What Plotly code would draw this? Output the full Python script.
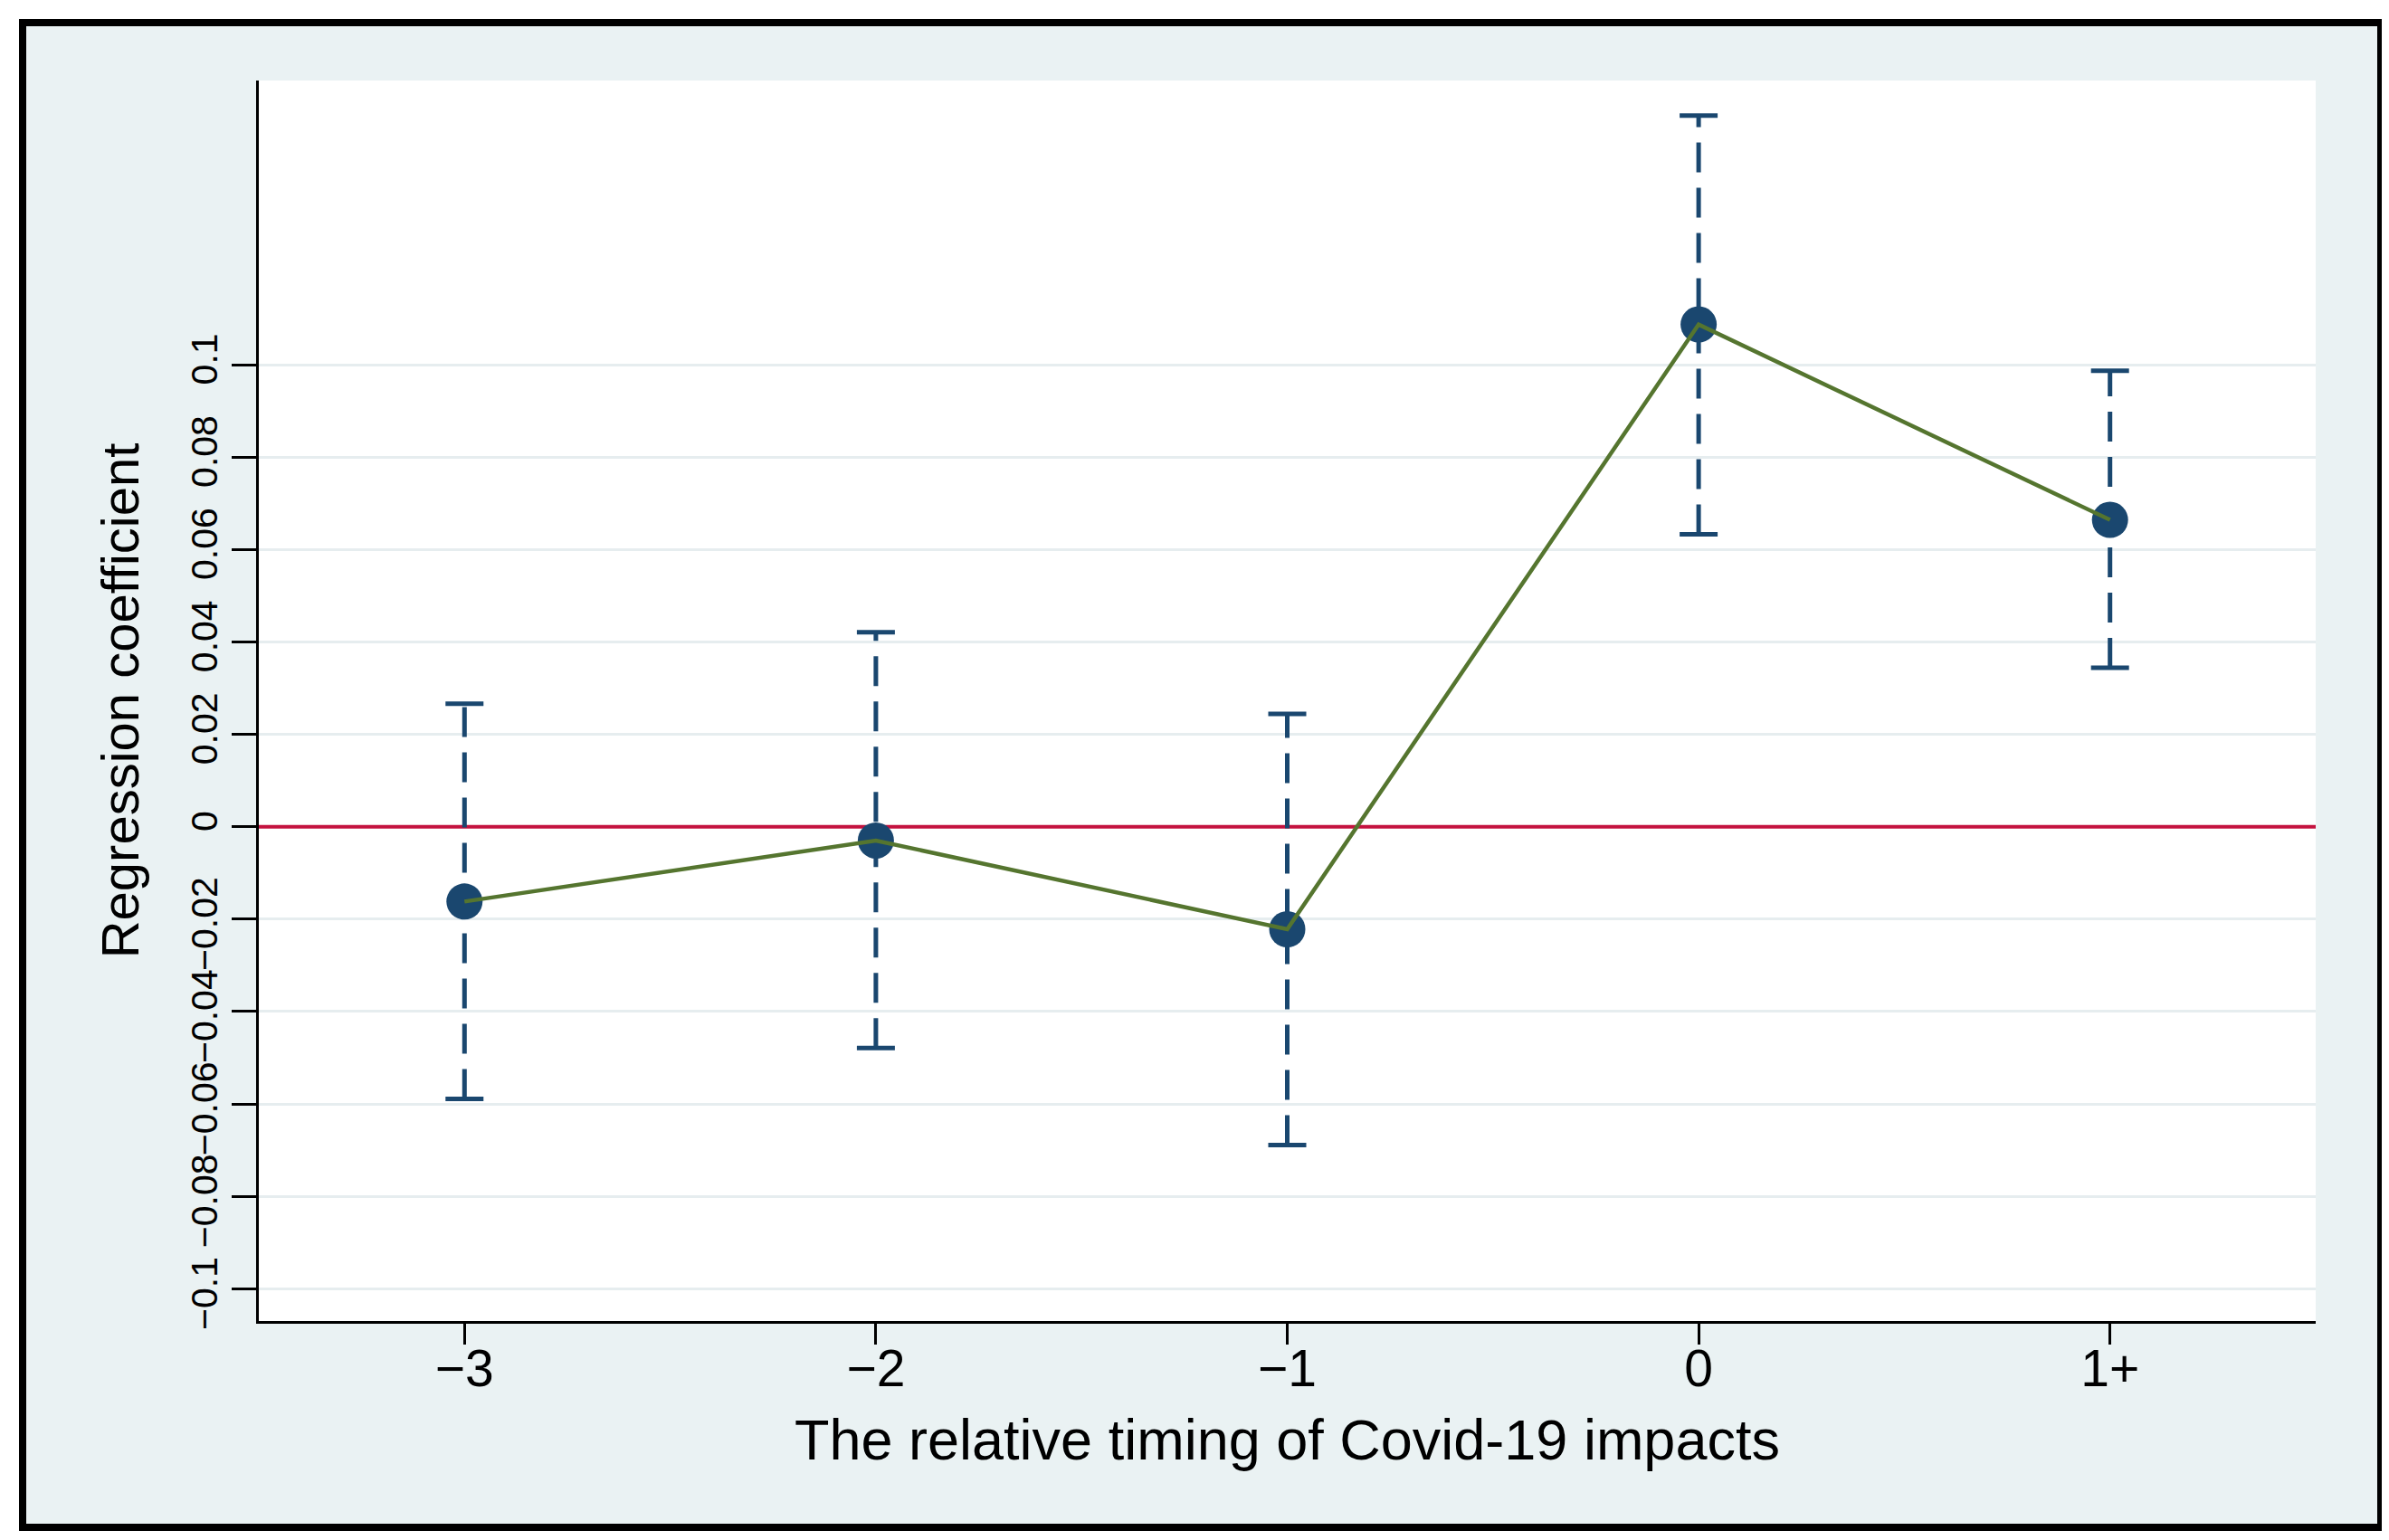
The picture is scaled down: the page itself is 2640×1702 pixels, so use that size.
import plotly.graph_objects as go

# ---- data ----
period_labels = ["\u22123", "\u22122", "\u22121", "0", "1+"]
period_pos = [-3, -2, -1, 0, 1]
coef = [-0.0162, -0.0030, -0.0222, 0.1087, 0.0664]
ci_low = [-0.0589, -0.0479, -0.0689, 0.0633, 0.0344]
ci_high = [0.0266, 0.0421, 0.0244, 0.1539, 0.0987]
y_tick_vals = [-0.1, -0.08, -0.06, -0.04, -0.02, 0, 0.02, 0.04, 0.06, 0.08, 0.1]
y_tick_text = ["\u22120.1", "\u22120.08", "\u22120.06", "\u22120.04", "\u22120.02", "0",
               "0.02", "0.04", "0.06", "0.08", "0.1"]
x_range = [-3.5, 1.5]
y_range = [-0.107, 0.1615]
ref_value = 0
x_title = "The relative timing of Covid-19 impacts"
y_title = "Regression coefficient"

NAVY = "#1A476F"
GREEN = "#55752F"
RED = "#C4123F"
BG = "#EAF2F3"
FONT = "Liberation Sans, Arial, sans-serif"

W, H = 2640, 1702
ML, MR, MT, MB = 278, 89, 81, 250
PW, PH = W - ML - MR, H - MT - MB

# negative labels: numeric part centred on the tick, minus sign protruding (as in the reference)
y_tick_disp = [t + "\u00a0\u00a0" if t.startswith("\u2212") else t for t in y_tick_text]

fig = go.Figure()

# zero reference line across the whole x range
fig.add_trace(go.Scatter(x=x_range, y=[ref_value, ref_value], mode="lines",
                         line=dict(color=RED, width=4), hoverinfo="skip", showlegend=False))

# dashed confidence-interval lines
for xp, lo, hi in zip(period_pos, ci_low, ci_high):
    fig.add_trace(go.Scatter(x=[xp, xp], y=[lo, hi], mode="lines",
                             line=dict(color=NAVY, width=5, dash="33px,17px"),
                             hoverinfo="skip", showlegend=False))
# caps
fig.add_trace(go.Scatter(x=period_pos + period_pos, y=ci_low + ci_high, mode="markers",
                         marker=dict(symbol="line-ew", size=30, color=NAVY,
                                     line=dict(color=NAVY, width=5)),
                         hoverinfo="skip", showlegend=False))
# point estimates
fig.add_trace(go.Scatter(x=period_pos, y=coef, mode="markers",
                         marker=dict(size=40, color=NAVY), showlegend=False))
# connecting line
fig.add_trace(go.Scatter(x=period_pos, y=coef, mode="lines",
                         line=dict(color=GREEN, width=4.5), showlegend=False))


def px_to_paper_x(px):
    return (px - ML) / PW


def px_to_paper_y(py):
    return (H - MB - py) / PH


shapes = [
    # outer framed background
    dict(type="rect", xref="paper", yref="paper", layer="below",
         x0=px_to_paper_x(17), x1=px_to_paper_x(2623),
         y0=px_to_paper_y(1680), y1=px_to_paper_y(17),
         fillcolor=BG, line=dict(color="black", width=8)),
    # white plot region
    dict(type="rect", xref="paper", yref="paper", layer="below",
         x0=0, x1=1, y0=0, y1=1, fillcolor="white", line=dict(width=0)),
]

fig.update_layout(
    width=W, height=H, autosize=False,
    margin=dict(l=ML, r=MR, t=MT, b=MB),
    paper_bgcolor="white", plot_bgcolor="rgba(0,0,0,0)",
    shapes=shapes, showlegend=False,
    font=dict(family=FONT, color="black"),
    annotations=[dict(text=x_title, xref="paper", yref="paper",
                      x=0.5, y=px_to_paper_y(1583), xanchor="center", yanchor="middle",
                      showarrow=False, borderpad=0,
                      font=dict(size=63, family=FONT, color="black"))],
)

fig.update_xaxes(
    range=x_range, tickmode="array", tickvals=period_pos, ticktext=period_labels,
    showgrid=False, zeroline=False,
    showline=True, linecolor="black", linewidth=3,
    ticks="outside", ticklen=23, tickwidth=3, tickcolor="black",
    tickfont=dict(size=57, family=FONT, color="black"),
    ticklabelstandoff=-22,
)
fig.update_yaxes(
    range=y_range, tickmode="array", tickvals=y_tick_vals, ticktext=y_tick_disp,
    tickangle=-90,
    showgrid=True, gridcolor="#E6EDEF", gridwidth=3, zeroline=False,
    showline=True, linecolor="black", linewidth=3,
    ticks="outside", ticklen=27, tickwidth=3, tickcolor="black",
    tickfont=dict(size=41, family=FONT, color="black"),
    title=dict(text=y_title,
               font=dict(size=58, family=FONT, color="black"), standoff=31),
)

fig.write_html("out.html")
